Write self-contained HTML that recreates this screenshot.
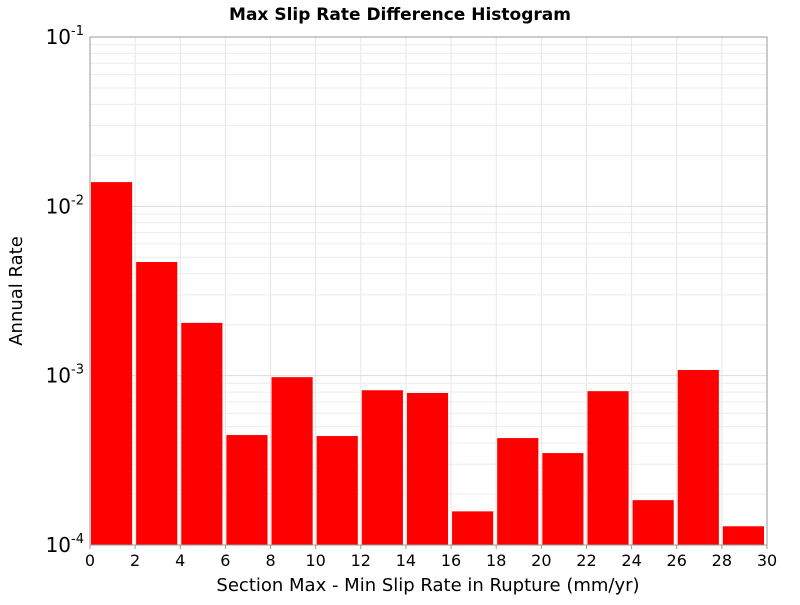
<!DOCTYPE html>
<html><head><meta charset="utf-8"><style>
body{margin:0;background:#fff;font-family:"Liberation Sans","DejaVu Sans",sans-serif}
</style></head><body>
<svg width="800" height="600" xmlns="http://www.w3.org/2000/svg" id="chart">
<text x="400" y="20" text-anchor="middle" font-size="17" font-weight="bold" font-family="DejaVu Sans, sans-serif">Max Slip Rate Difference Histogram</text>
<g id="grid"></g>
<g id="bars"></g>
<rect x="90" y="37" width="677" height="508" fill="none" stroke="#999"/>
<g id="xticks"></g>
<g id="yticks"></g>
<text x="428" y="591" text-anchor="middle" font-size="18" font-family="DejaVu Sans, sans-serif">Section Max - Min Slip Rate in Rupture (mm/yr)</text>
<text transform="translate(22,291) rotate(-90)" text-anchor="middle" font-size="18" font-family="DejaVu Sans, sans-serif">Annual Rate</text>
</svg>
<script>
const binStarts=[0,2,4,6,8,10,12,14,16,18,20,22,24,26,28];
const rates=[0.0139,0.00469,0.00205,0.000446,0.00098,0.00044,0.00082,0.00079,0.000158,0.000428,0.000349,0.00081,0.000184,0.00108,0.000129];
const xTicks=[0,2,4,6,8,10,12,14,16,18,20,22,24,26,28,30];
const yDecades=[-4,-3,-2,-1];
const binWidth=2;
const NS="http://www.w3.org/2000/svg";
const X0=90,X1=767,Y0=545,Y1=37;
function xs(v){return X0+(v-0)/(30-0)*(X1-X0);}
function ys(v){return Y0-(Math.log10(v)+4)/3*(Y0-Y1);}
function mk(tag,attrs,parent){const e=document.createElementNS(NS,tag);for(const k in attrs)e.setAttribute(k,attrs[k]);parent.appendChild(e);return e;}
const grid=document.getElementById('grid');
for(const t of xTicks){const l=mk('line',{x1:xs(t),x2:xs(t),y1:Y1,y2:Y0,stroke:'#e6e6e6'},grid);

}
for(let d=-4;d<-1;d++){for(let m=1;m<10;m++){const v=m*Math.pow(10,d);const y=ys(v);
const l=mk('line',{x1:X0,x2:X1,y1:y,y2:y,stroke:m==1?'#dcdcdc':'#ececec'},grid);

}}
const bars=document.getElementById('bars');
binStarts.forEach((s,i)=>{const x=xs(s)+1,w=xs(s+binWidth)-xs(s)-4,y=ys(rates[i]);
const r=mk('rect',{x:x,y:y,width:w,height:Y0-y,fill:'#ff0000'},bars);

});
const xt=document.getElementById('xticks');
for(const t of xTicks){mk('line',{x1:xs(t),x2:xs(t),y1:Y0,y2:Y0+4,stroke:'#999'},xt);
const tx=mk('text',{x:xs(t),y:Y0+21,'text-anchor':'middle','font-size':16,'font-family':'DejaVu Sans, sans-serif'},xt);tx.textContent=t;

}
const yt=document.getElementById('yticks');
for(const d of yDecades){const y=ys(Math.pow(10,d));
const tx=mk('text',{x:84,y:y+7,'text-anchor':'end','font-size':20,'font-family':'DejaVu Sans, sans-serif'},yt);
tx.innerHTML='10<tspan dy="-9" font-size="13">'+d+'</tspan>';

}
</script>
</body></html>
